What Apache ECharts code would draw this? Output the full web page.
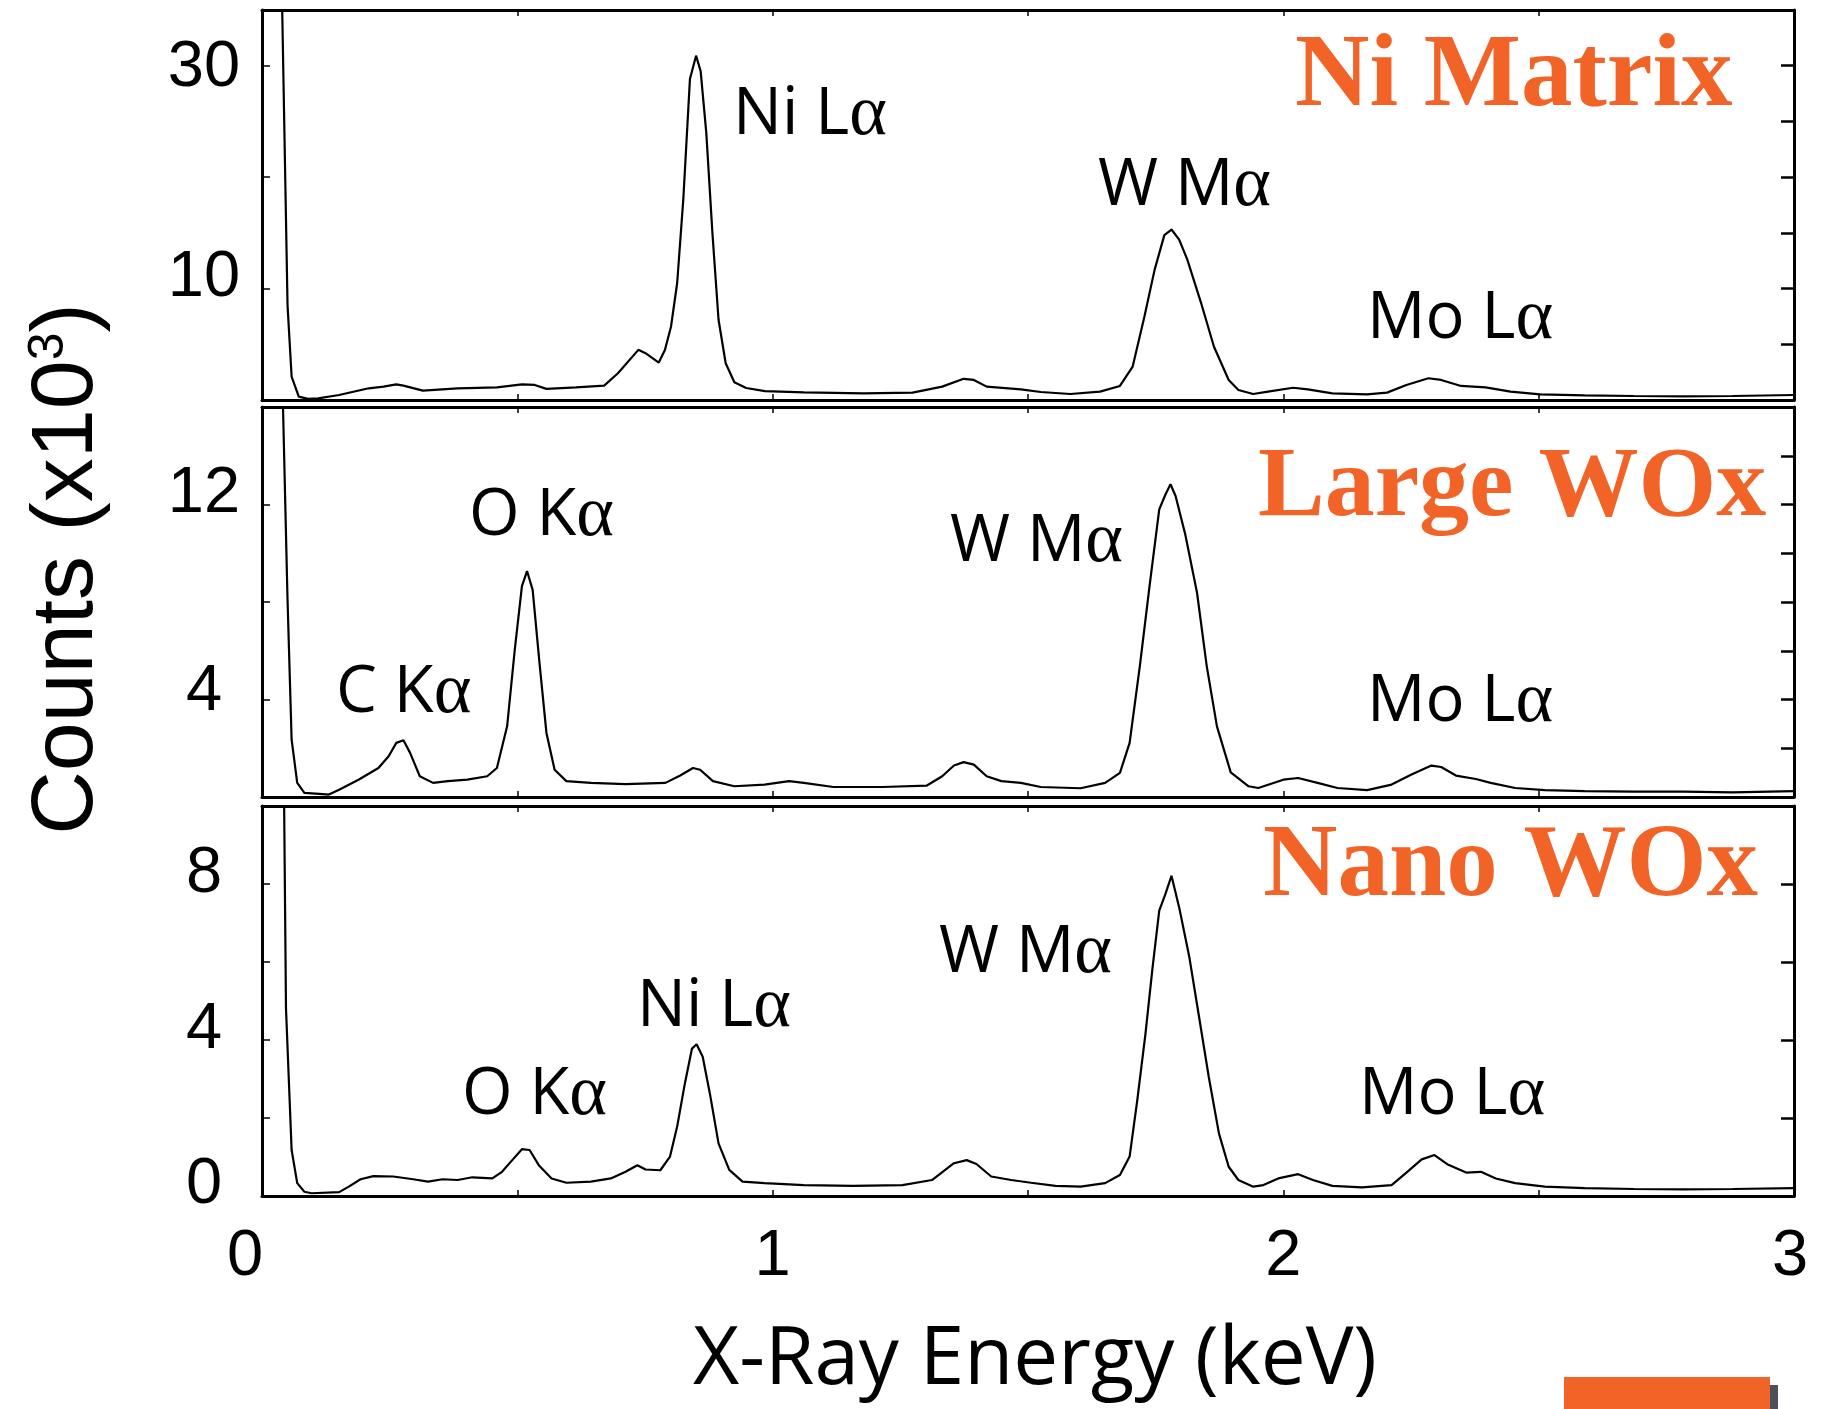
<!DOCTYPE html>
<html>
<head>
<meta charset="utf-8">
<script src="https://cdn.jsdelivr.net/npm/echarts/dist/echarts.min.js"></script>
<style>
  html, body { margin: 0; padding: 0; background: #ffffff; }
  #chart { width: 1839px; height: 1409px; }
</style>
</head>
<body>
<div id="chart"></div>
<script>
// EDS spectra: counts (thousands) against X-ray energy (keV) for three regions.

const niMatrixEnergy = [0.0376, 0.050, 0.058, 0.072, 0.090, 0.110, 0.151, 0.209, 0.238, 0.263, 0.277, 0.315, 0.383, 0.460, 0.509, 0.534, 0.557, 0.615, 0.670,
  0.697, 0.737, 0.751, 0.777, 0.789, 0.801, 0.813, 0.825, 0.838, 0.850, 0.859, 0.870, 0.882, 0.894, 0.908, 0.925, 0.948, 0.985, 1.061, 1.178, 1.274,
  1.332, 1.374, 1.394, 1.419, 1.486, 1.525, 1.583, 1.641, 1.680, 1.705, 1.728, 1.748, 1.767, 1.781, 1.796, 1.812, 1.839, 1.864, 1.893, 1.912,
  1.941, 1.970, 2.019, 2.048, 2.096, 2.164, 2.203, 2.241, 2.284, 2.309, 2.348, 2.396, 2.445, 2.503, 2.590, 2.687, 2.784, 2.880, 3.000];
const niMatrixCounts = [40, 8.5, 2.1, 0.3, 0.1, 0.15, 0.45, 1.05, 1.2, 1.4, 1.29, 0.84, 1.05, 1.14, 1.4, 1.35, 1.0, 1.14, 1.29,
  2.4, 4.5, 4.2, 3.36, 4.49, 6.6, 10.5, 18.0, 28.8, 30.9, 29.5, 24.0, 15.0, 7.2, 3.3, 1.6, 1.08, 0.8, 0.68, 0.6, 0.66,
  1.2, 1.9, 1.8, 1.2, 0.96, 0.72, 0.54, 0.75, 1.26, 3.0, 7.5, 11.7, 14.8, 15.3, 14.4, 12.6, 8.7, 4.8, 1.8, 0.9,
  0.54, 0.75, 1.1, 0.96, 0.6, 0.5, 0.66, 1.35, 1.95, 1.8, 1.26, 1.14, 0.75, 0.5, 0.42, 0.36, 0.33, 0.36, 0.45];

const largeWOxEnergy = [0.040, 0.050, 0.058, 0.069, 0.083, 0.112, 0.131, 0.151, 0.189, 0.228, 0.248, 0.263, 0.277, 0.290, 0.309, 0.335, 0.364,
  0.402, 0.441, 0.460, 0.480, 0.495, 0.509, 0.519, 0.530, 0.544, 0.557, 0.573, 0.596, 0.644, 0.712, 0.790, 0.819, 0.844, 0.858, 0.883, 0.925,
  0.984, 1.032, 1.061, 1.119, 1.215, 1.302, 1.332, 1.355, 1.374, 1.394, 1.419, 1.448, 1.486, 1.525, 1.603, 1.651, 1.680, 1.699, 1.719, 1.738,
  1.757, 1.769, 1.779, 1.789, 1.808, 1.831, 1.850, 1.870, 1.897, 1.932, 1.951, 2.000, 2.029, 2.067, 2.106, 2.164, 2.212, 2.251, 2.290, 2.309,
  2.338, 2.377, 2.406, 2.454, 2.512, 2.590, 2.687, 2.784, 2.880, 3.000];
const largeWOxCounts = [17, 8.1, 2.35, 0.58, 0.17, 0.13, 0.1, 0.3, 0.71, 1.19, 1.67, 2.22, 2.33, 1.81, 0.85, 0.58, 0.65,
  0.71, 0.85, 1.19, 2.9, 6.05, 8.65, 9.27, 8.5, 5.37, 2.63, 1.12, 0.65, 0.58, 0.53, 0.58, 0.88, 1.19, 1.12, 0.65, 0.44,
  0.51, 0.65, 0.58, 0.41, 0.41, 0.47, 0.85, 1.29, 1.43, 1.33, 0.85, 0.65, 0.58, 0.41, 0.36, 0.58, 0.99, 2.22, 5.37, 8.65,
  11.8, 12.4, 12.83, 12.35, 10.77, 8.38, 5.37, 2.9, 1.01, 0.44, 0.37, 0.71, 0.78, 0.58, 0.37, 0.28, 0.51, 0.92, 1.29, 1.23,
  0.88, 0.74, 0.58, 0.37, 0.28, 0.24, 0.22, 0.22, 0.19, 0.24];

const nanoWOxEnergy = [0.043, 0.047, 0.058, 0.069, 0.083, 0.097, 0.151, 0.170, 0.193, 0.218, 0.257, 0.296, 0.325, 0.354, 0.383, 0.412, 0.451,
  0.470, 0.490, 0.509, 0.524, 0.542, 0.567, 0.596, 0.644, 0.683, 0.712, 0.735, 0.751, 0.780, 0.799, 0.813, 0.828, 0.842, 0.851, 0.863, 0.877,
  0.894, 0.915, 0.941, 0.984, 1.061, 1.158, 1.254, 1.312, 1.355, 1.380, 1.399, 1.428, 1.467, 1.506, 1.554, 1.603, 1.651, 1.680, 1.699, 1.714,
  1.730, 1.744, 1.757, 1.769, 1.781, 1.796, 1.816, 1.835, 1.854, 1.874, 1.893, 1.912, 1.941, 1.961, 1.990, 2.029, 2.058, 2.096, 2.154, 2.212,
  2.241, 2.271, 2.296, 2.323, 2.358, 2.387, 2.416, 2.454, 2.512, 2.590, 2.687, 2.784, 2.880, 3.000];
const nanoWOxCounts = [10.5, 4.8, 1.18, 0.33, 0.11, 0.07, 0.1, 0.24, 0.43, 0.51, 0.5, 0.43, 0.37, 0.43, 0.41, 0.48, 0.45,
  0.62, 0.92, 1.2, 1.18, 0.79, 0.45, 0.34, 0.37, 0.45, 0.62, 0.79, 0.68, 0.66, 1.01, 1.78, 2.88, 3.78, 3.89, 3.57, 2.63,
  1.35, 0.67, 0.37, 0.33, 0.28, 0.26, 0.28, 0.41, 0.84, 0.92, 0.82, 0.5, 0.41, 0.34, 0.26, 0.24, 0.33, 0.54, 1.01, 2.46,
  4.16, 5.87, 7.32, 7.74, 8.21, 7.4, 6.12, 4.59, 3.05, 1.6, 0.75, 0.41, 0.24, 0.28, 0.45, 0.56, 0.41, 0.26, 0.22, 0.28,
  0.6, 0.94, 1.05, 0.8, 0.6, 0.62, 0.45, 0.33, 0.24, 0.2, 0.18, 0.17, 0.18, 0.2];

// Axis ranges and labelled ticks
const energyTickLabels = [0, 1, 2, 3];
const niMatrixTickLabels = [30, 10];
const largeWOxTickLabels = [12, 4];
const nanoWOxTickLabels = [8, 4, 0];
const panelNames = ['Ni Matrix', 'Large WOx', 'Nano WOx'];
const peakNames = [
  ['Ni L', 'W M', 'Mo L'],
  ['C K', 'O K', 'W M', 'Mo L'],
  ['O K', 'Ni L', 'W M', 'Mo L']
];

// ---------- layout ----------
const ORANGE = '#F26328';
const PLOT_LEFT = 262, PLOT_WIDTH = 1532, PANEL_HEIGHT = 390;
const panelTops = [10, 407, 806];
// label lift: how far (px) each tick label sits above its tick
const panelScales = [
  { max: 35, leftStep: 10, rightStep: 5, ticks: niMatrixTickLabels, lift: { 30: -2, 10: 10 } },
  { max: 16, leftStep: 4, rightStep: 2, ticks: largeWOxTickLabels, lift: { 12: 10, 4: 7 } },
  { max: 10, leftStep: 2, rightStep: 2, ticks: nanoWOxTickLabels, lift: { 8: 10, 4: 10, 0: 11 } }
];
const series = [
  [niMatrixEnergy, niMatrixCounts],
  [largeWOxEnergy, largeWOxCounts],
  [nanoWOxEnergy, nanoWOxCounts]
];
// label anchors: left edge x and cap-centre y, in pixels
const peakLabelPos = [
  [[733, 115], [1098, 186], [1367, 319]],
  [[336, 693], [469, 516], [950, 542], [1367, 702]],
  [[462, 1095], [637, 1007], [939, 953], [1359, 1095]]
];
const panelNamePos = [[1295, 78], [1258, 489], [1263, 868]];
const panelNameSize = [103, 100, 103];

const tickFont = { fontFamily: 'Liberation Sans, Arial, sans-serif', fontSize: 65, color: '#000' };

function liftPadding(l) {
  return l >= 0 ? [0, 0, 2 * l, 0] : [-2 * l, 0, 0, 0];
}

const grids = [], xAxes = [], yAxes = [], seriesList = [];
panelTops.forEach((top, i) => {
  grids.push({ left: PLOT_LEFT, top: top, width: PLOT_WIDTH, height: PANEL_HEIGHT, containLabel: false });
  const sc = panelScales[i];
  const isLast = i === panelTops.length - 1;
  const rich = {};
  Object.keys(sc.lift).forEach(k => {
    rich['u' + k] = Object.assign({ padding: liftPadding(sc.lift[k]) }, tickFont);
  });
  const xRich = {
    x0: Object.assign({ padding: [6, 34, 0, 0] }, tickFont),
    x3: Object.assign({ padding: [6, 8, 0, 0] }, tickFont),
    xn: Object.assign({ padding: [6, 0, 0, 0] }, tickFont)
  };
  const frame = { show: true, onZero: false, lineStyle: { color: '#000', width: 3 } };
  // bottom energy axis
  xAxes.push({
    type: 'value', gridIndex: i, position: 'bottom', min: 0, max: 3, interval: 0.5,
    axisLine: frame,
    axisTick: { show: true, inside: true, length: 6, lineStyle: { color: '#000', width: 1.5 } },
    splitLine: { show: false },
    axisLabel: {
      show: isLast, margin: 58, verticalAlign: 'middle', align: 'center',
      showMinLabel: true, showMaxLabel: true,
      formatter: v => energyTickLabels.includes(v) ? (v === 0 ? '{x0|0}' : v === 3 ? '{x3|3}' : '{xn|' + v + '}') : '',
      rich: xRich
    }
  });
  // top energy axis (ticks only)
  xAxes.push({
    type: 'value', gridIndex: i, position: 'top', min: 0, max: 3, interval: 0.5,
    axisLine: frame,
    axisTick: { show: true, inside: true, length: 6, lineStyle: { color: '#000', width: 1.5 } },
    splitLine: { show: false }, axisLabel: { show: false }
  });
  // left counts axis
  yAxes.push({
    type: 'value', gridIndex: i, position: 'left', min: 0, max: sc.max, interval: sc.leftStep,
    axisLine: frame,
    axisTick: { show: true, inside: true, length: 8, lineStyle: { color: '#000', width: 1.5 } },
    splitLine: { show: false },
    axisLabel: {
      show: true, margin: 58, align: 'center', verticalAlign: 'middle',
      showMinLabel: true, showMaxLabel: false,
      formatter: v => sc.ticks.includes(v) ? '{u' + v + '|' + v + '}' : '',
      rich: rich
    }
  });
  // right counts axis (minor ticks)
  yAxes.push({
    type: 'value', gridIndex: i, position: 'right', min: 0, max: sc.max, interval: sc.rightStep,
    axisLine: frame,
    axisTick: { show: true, inside: true, length: 13, lineStyle: { color: '#000', width: 2.5 } },
    splitLine: { show: false }, axisLabel: { show: false }
  });
  const [en, ct] = series[i];
  const n = Math.min(en.length, ct.length);
  const pts = [];
  for (let k = 0; k < n; k++) pts.push([en[k], ct[k]]);
  seriesList.push({
    type: 'line', name: panelNames[i], xAxisIndex: 2 * i, yAxisIndex: 2 * i,
    data: pts, showSymbol: false, symbol: 'none', clip: true, smooth: false,
    lineStyle: { color: '#000', width: 2.2 }, silent: true
  });
});

// text overlays
const graphics = [];
const peakRich = {
  t: { fontFamily: 'Open Sans', fontSize: 65, fill: '#000' },
  g: { fontFamily: 'Liberation Serif', fontSize: 72, fill: '#000' }
};
peakNames.forEach((names, i) => {
  names.forEach((nm, j) => {
    const [px, py] = peakLabelPos[i][j];
    graphics.push({
      type: 'text', x: px, y: py, silent: true,
      style: { text: '{t|' + nm + '}{g|α}', rich: peakRich, align: 'left', verticalAlign: 'middle' }
    });
  });
});
panelNames.forEach((nm, i) => {
  const [px, py] = panelNamePos[i];
  graphics.push({
    type: 'text', x: px, y: py, silent: true,
    style: {
      text: nm, fill: ORANGE, align: 'left', verticalAlign: 'middle',
      font: 'bold ' + panelNameSize[i] + 'px "Liberation Serif", "Times New Roman", serif'
    }
  });
});
graphics.push({
  type: 'text', x: 68, y: 569, rotation: Math.PI / 2, silent: true,
  style: {
    text: 'Counts (x10{s|3})', align: 'center', verticalAlign: 'middle',
    font: '88px "Liberation Sans", Arial, sans-serif', fill: '#000',
    rich: { s: { fontFamily: 'Liberation Sans', fontSize: 50, fill: '#000', verticalAlign: 'top' } }
  }
});
graphics.push({
  type: 'text', x: 1035, y: 1361, silent: true,
  style: {
    text: 'X-Ray Energy (keV)', align: 'center', verticalAlign: 'middle',
    font: '80px "Open Sans", sans-serif', fill: '#000'
  }
});
graphics.push({ type: 'rect', shape: { x: 1564, y: 1377, width: 206, height: 32 }, style: { fill: ORANGE }, silent: true });
graphics.push({ type: 'rect', shape: { x: 1770, y: 1385, width: 8, height: 24 }, style: { fill: '#4b505c' }, silent: true });

const chart = echarts.init(document.getElementById('chart'), null, { renderer: 'canvas' });
chart.setOption({
  animation: false,
  backgroundColor: '#ffffff',
  grid: grids,
  xAxis: xAxes,
  yAxis: yAxes,
  series: seriesList,
  graphic: graphics
});
</script>
</body>
</html>
